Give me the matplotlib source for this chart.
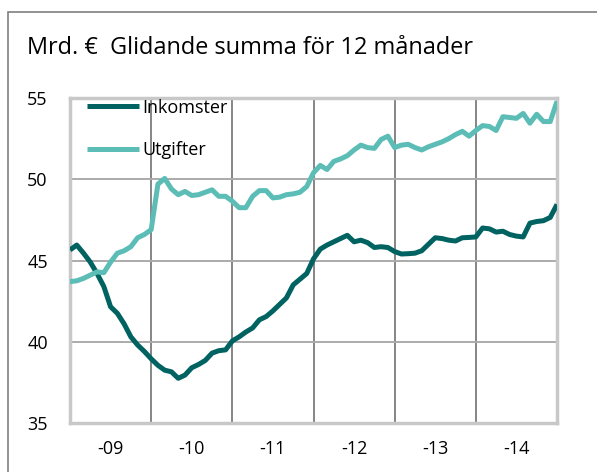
import matplotlib
matplotlib.use("Agg")
import matplotlib.pyplot as plt
from matplotlib.patches import Rectangle

plt.rcParams['font.family'] = ['Open Sans', 'DejaVu Sans']

# Monthly rolling 12-month sums, Dec 2008 .. Dec 2014 (73 points)
inkomster = [45.65, 45.95, 45.45, 44.9, 44.2, 43.4, 42.15, 41.75, 41.1, 40.3, 39.8, 39.4,
             38.95, 38.55, 38.25, 38.15, 37.75, 37.95, 38.4, 38.6, 38.85, 39.3, 39.45, 39.5,
             40.05, 40.3, 40.6, 40.85, 41.35, 41.55, 41.9, 42.3, 42.7, 43.5, 43.85, 44.2,
             45.1, 45.7, 45.95, 46.15, 46.35, 46.55, 46.15, 46.25, 46.1, 45.8, 45.85, 45.8,
             45.55, 45.4, 45.42, 45.45, 45.6, 46.0, 46.4, 46.35, 46.25, 46.2, 46.4, 46.42,
             46.45, 47.0, 46.95, 46.75, 46.8, 46.6, 46.5, 46.45, 47.3, 47.4, 47.45, 47.65,
             48.45]
utgifter = [43.7, 43.75, 43.9, 44.1, 44.3, 44.25, 44.9, 45.45, 45.6, 45.85, 46.4, 46.6,
            46.9, 49.7, 50.05, 49.4, 49.05, 49.25, 49.0, 49.05, 49.2, 49.35, 48.95, 48.95,
            48.65, 48.25, 48.25, 48.95, 49.3, 49.3, 48.85, 48.9, 49.05, 49.1, 49.2, 49.55,
            50.4, 50.85, 50.6, 51.1, 51.25, 51.45, 51.8, 52.1, 51.95, 51.9, 52.45, 52.65,
            51.95, 52.1, 52.15, 51.95, 51.8, 52.0, 52.15, 52.3, 52.5, 52.75, 52.95, 52.65,
            53.0, 53.3, 53.25, 53.0, 53.85, 53.8, 53.75, 54.05, 53.45, 54.0, 53.55, 53.55,
            54.8]
year_labels = ["-09", "-10", "-11", "-12", "-13", "-14"]
y_ticks = [35, 40, 45, 50, 55]
series_names = ["Inkomster", "Utgifter"]
title = "Mrd. €  Glidande summa för 12 månader"

months = list(range(len(inkomster)))

fig = plt.figure(figsize=(5.97, 4.72), dpi=100)
ax = fig.add_axes([70/597, 1-423/472, 487/597, 325/472])

# outer frame
fig.patches.append(Rectangle((8/597, -0.1), 1.2, 1-12/472+0.1, transform=fig.transFigure,
                             fill=False, edgecolor='#7f7f7f', linewidth=1.2))

ax.plot(months, inkomster, color='#006361', lw=3.6, label=series_names[0], solid_capstyle='butt', zorder=3)
ax.plot(months, utgifter, color='#5bbdb6', lw=3.6, label=series_names[1], solid_capstyle='butt', zorder=3)

n_years = len(year_labels)
ax.set_xlim(0, 12 * n_years)
ax.set_ylim(y_ticks[0], y_ticks[-1])

for k in range(1, n_years):
    ax.axvline(12 * k, color='#858585', lw=1.4, zorder=1)
for v in y_ticks[1:-1]:
    ax.axhline(v, color='#ababab', lw=1.4, zorder=1)

ax.set_yticks(y_ticks)
ax.set_yticklabels([str(v) for v in y_ticks], fontsize=13)
ax.set_xticks([12 * k + 6 for k in range(n_years)])
ax.set_xticklabels(year_labels, fontsize=13)
ax.tick_params(axis='x', length=0, pad=12)
ax.tick_params(axis='y', length=0, pad=16)

for s in ax.spines.values():
    s.set_color('#c8c8c8')
    s.set_linewidth(2.5)

fig.text(27/597, 1-48/472, title, fontsize=16.9, va='center', ha='left')

ax.legend(loc='upper left', bbox_to_anchor=(0.02, 1.02), frameon=False, fontsize=13,
          handlelength=2.9, handletextpad=0.15, labelspacing=1.35, borderaxespad=0)

fig.savefig("out.png", dpi=100)
